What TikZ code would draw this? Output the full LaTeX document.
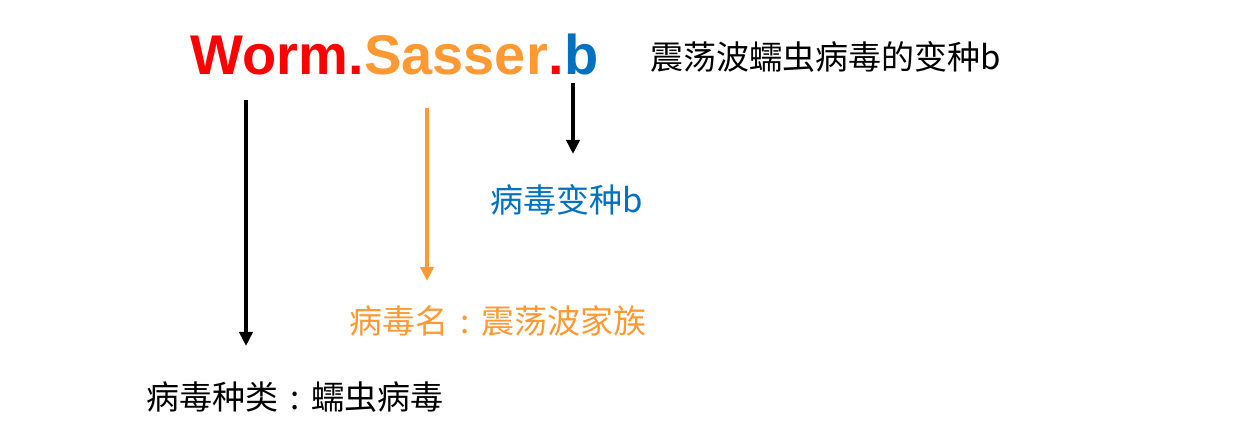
\documentclass[tikz,border=0pt]{standalone}
\usepackage{fontspec}
\setmainfont{Liberation Sans}
\newfontfamily\cjk{Noto Sans CJK SC}
\usetikzlibrary{arrows.meta, positioning}

\definecolor{wormred}{RGB}{255,0,0}
\definecolor{sasserorange}{RGB}{255,153,51}
\definecolor{variantblue}{RGB}{0,112,192}

% full-width colon, centred in its cell
\newcommand{\fwcolon}{\makebox[1em][c]{:}}

\begin{document}
\begin{tikzpicture}[
    x=1pt, y=-1pt,
    namepart/.style={inner sep=0pt, anchor=base west, font=\bfseries\fontsize{56}{60}\selectfont},
    cjklabel/.style={inner sep=0pt, anchor=west, font=\cjk\fontsize{33}{38}\selectfont},
    pointer/.style={line width=3.6pt, -{Triangle[width=13pt, length=14pt]}},
]

% ===== Canvas =====
\useasboundingbox (0,0) rectangle (1248,435);

% ===== Virus name, split in its three parts =====
\node[namepart, text=wormred] (worm) at (190,75) {Worm};
\node[namepart, text=wormred] (dota) at (worm.base east) {.};
\node[namepart, text=sasserorange] (sasser) at (dota.base east) {Sasser};
\node[namepart, text=wormred] (dotb) at (sasser.base east) {.};
\node[namepart, text=variantblue] (variant) at (dotb.base east) {b};

% full meaning on the right
\node[cjklabel] (meaning) at (650,57) {震荡波蠕虫病毒的变种b};

% ===== Explanations =====
\node[cjklabel, text=variantblue] (variantlbl) at (490,200) {病毒变种b};
\node[cjklabel, text=sasserorange] (familylbl) at (349,321) {病毒名\fwcolon 震荡波家族};
\node[cjklabel] (typelbl) at (146,397) {病毒种类\fwcolon 蠕虫病毒};

% ===== Pointers =====
\coordinate (wormfrom) at (246,100);
\coordinate (wormto) at (246,346);
\coordinate (sasserfrom) at (427,108);
\coordinate (sasserto) at (427,281);
\coordinate (variantfrom) at (573,83);
\coordinate (variantto) at (573,154);

\draw[pointer, black] (wormfrom) -- (wormto);
\draw[pointer, sasserorange] (sasserfrom) -- (sasserto);
\draw[pointer, black] (variantfrom) -- (variantto);

\end{tikzpicture}
\end{document}
